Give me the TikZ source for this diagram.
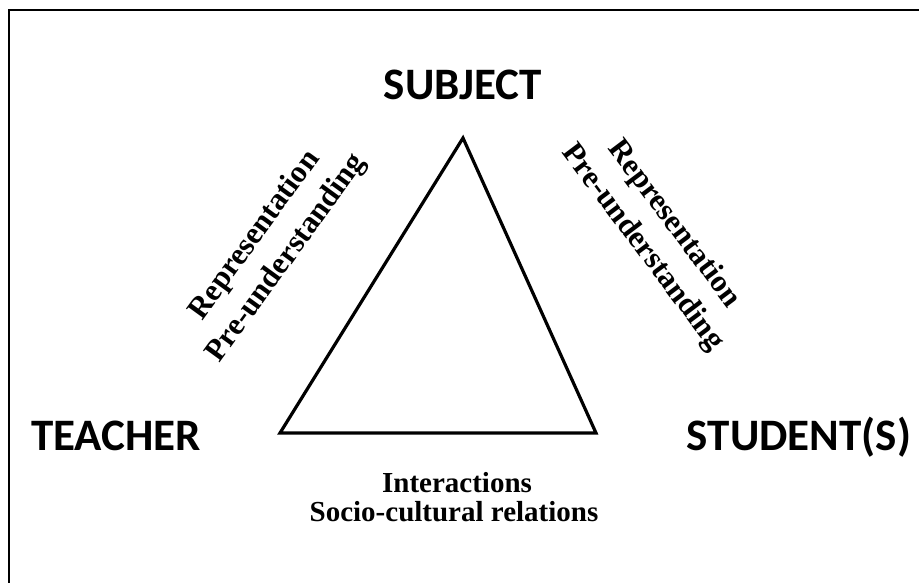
\documentclass[tikz,border=0pt]{standalone}
\usepackage{fontspec}
\setmainfont{Liberation Serif}
\newfontfamily\capsfont{Carlito}
\begin{document}
\begin{tikzpicture}[x=1pt,y=-1pt,
  corner/.style={font=\capsfont\bfseries\fontsize{45}{50}\selectfont, inner sep=0pt, anchor=base},
  sidetext/.style={font=\bfseries\fontsize{31}{39}\selectfont, align=center, inner sep=0pt},
  bottomtext/.style={font=\bfseries\fontsize{29}{30}\selectfont, inner sep=0pt, anchor=base},
  edge/.style={line width=3.2pt, line join=miter}]
\useasboundingbox (0,0) rectangle (919,583);
\fill[white] (0,0) rectangle (919,583);
% frame (left and top edges only)
\coordinate (fbl) at (9,583);
\coordinate (ftl) at (9,10);
\coordinate (ftr) at (919,10);
\draw[line width=2.5pt] (fbl) -- (ftl) -- (ftr);
% triangle
\coordinate (S) at (463,138);
\coordinate (T) at (280,433);
\coordinate (R) at (596,433);
\draw[edge] (S) -- (T) -- (R) -- cycle;
% corner labels
\node[corner] (subj) at (463,100) {SUBJECT};
\node[corner] (teach) at (116,450) {TEACHER};
\node[corner] (stud) at (799,450) {STUDENT(S)};
% side labels
\node[sidetext, rotate=54] (lside) at (271,247) {Representation\\Pre-understanding};
\node[sidetext, rotate=-53] (rside) at (658,236) {Representation\\Pre-understanding};
% bottom labels
\node[bottomtext] (inter) at (457,492) {Interactions};
\node[bottomtext] (socio) at (454,521) {Socio-cultural relations};
\end{tikzpicture}
\end{document}
